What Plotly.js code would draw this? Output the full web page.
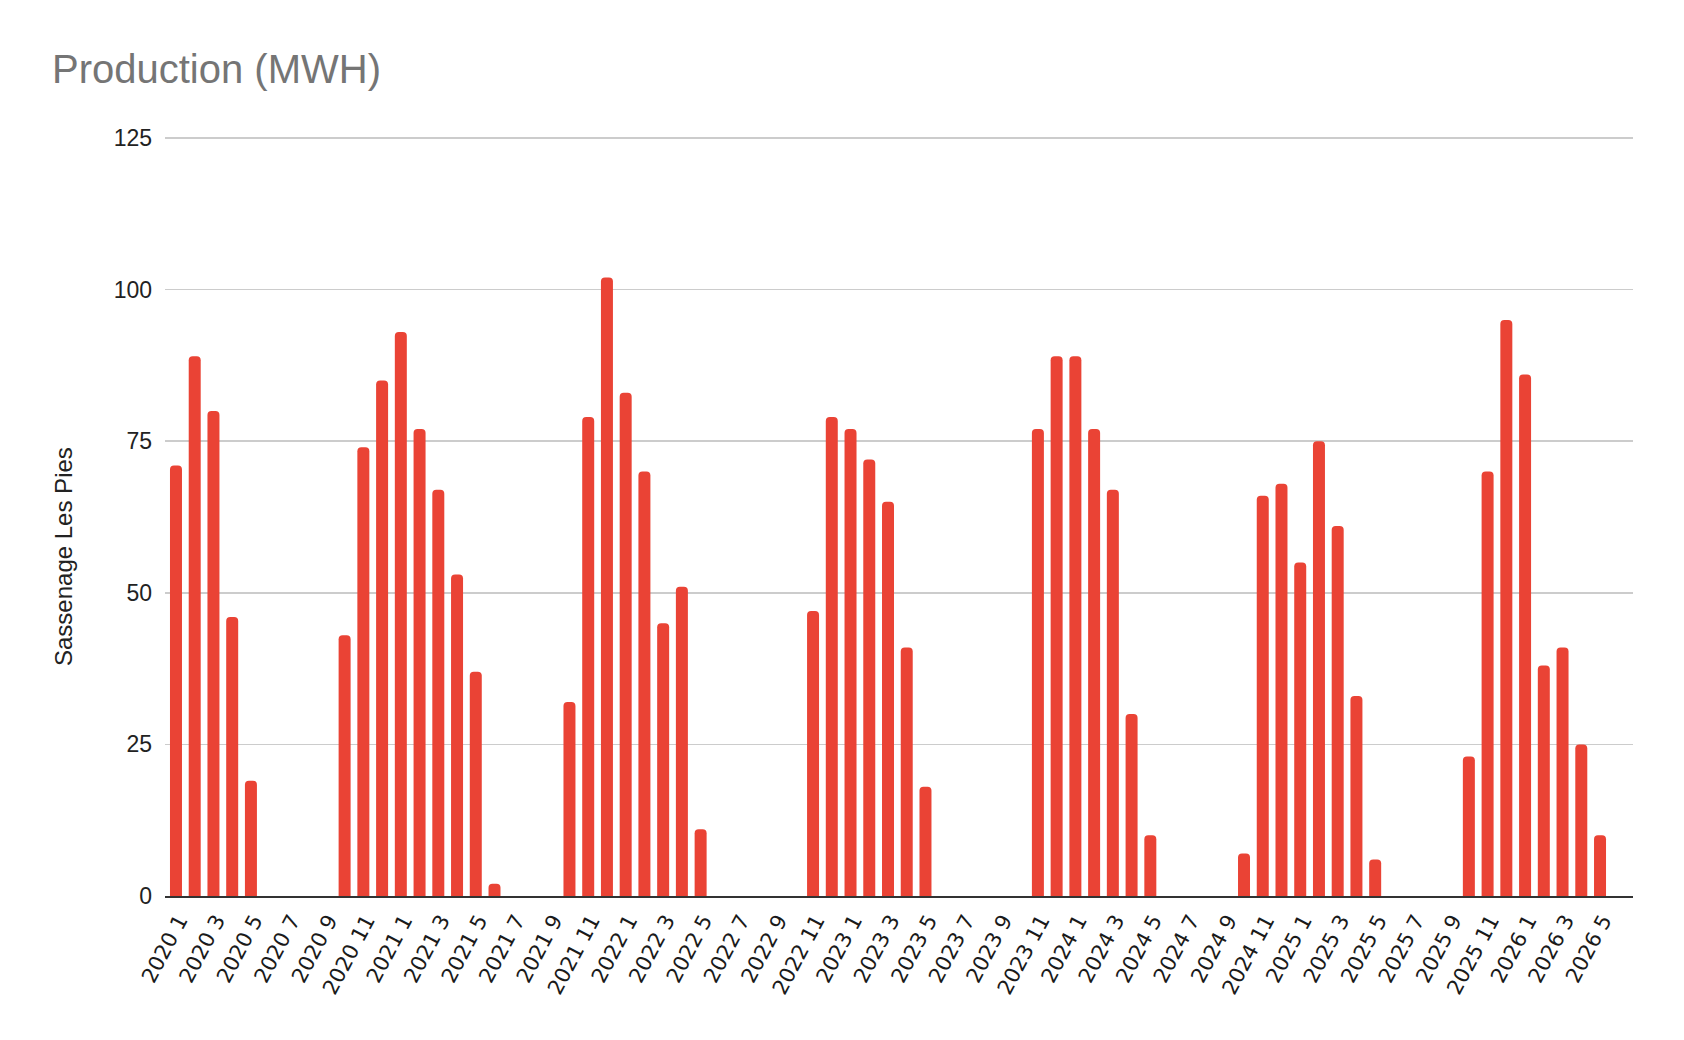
<!DOCTYPE html>
<html>
<head>
<meta charset="utf-8">
<script src="https://cdn.plot.ly/plotly-3.0.1.min.js"></script>
<style>
  html, body { margin: 0; padding: 0; background: #fff; }
  #chart { width: 1684px; height: 1040px; }
</style>
</head>
<body>
<div id="chart"></div>
<script>
// months from 2020 1 to 2026 5
var months = [
  '2020 1','2020 2','2020 3','2020 4','2020 5','2020 6','2020 7','2020 8','2020 9','2020 10','2020 11','2020 12',
  '2021 1','2021 2','2021 3','2021 4','2021 5','2021 6','2021 7','2021 8','2021 9','2021 10','2021 11','2021 12',
  '2022 1','2022 2','2022 3','2022 4','2022 5','2022 6','2022 7','2022 8','2022 9','2022 10','2022 11','2022 12',
  '2023 1','2023 2','2023 3','2023 4','2023 5','2023 6','2023 7','2023 8','2023 9','2023 10','2023 11','2023 12',
  '2024 1','2024 2','2024 3','2024 4','2024 5','2024 6','2024 7','2024 8','2024 9','2024 10','2024 11','2024 12',
  '2025 1','2025 2','2025 3','2025 4','2025 5','2025 6','2025 7','2025 8','2025 9','2025 10','2025 11','2025 12',
  '2026 1','2026 2','2026 3','2026 4','2026 5'
];

// production in MWH, one value per month
var production = [
  71, 89, 80, 46, 19, 0, 0, 0, 0, 43, 74, 85,
  93, 77, 67, 53, 37, 2, 0, 0, 0, 32, 79, 102,
  83, 70, 45, 51, 11, 0, 0, 0, 0, 0, 47, 79,
  77, 72, 65, 41, 18, 0, 0, 0, 0, 0, 77, 89,
  89, 77, 67, 30, 10, 0, 0, 0, 0, 7, 66, 68,
  55, 75, 61, 33, 6, 0, 0, 0, 0, 23, 70, 95,
  86, 38, 41, 25, 10
];

// only every other month gets a label
var tickLabels = [
  '2020 1','2020 3','2020 5','2020 7','2020 9','2020 11',
  '2021 1','2021 3','2021 5','2021 7','2021 9','2021 11',
  '2022 1','2022 3','2022 5','2022 7','2022 9','2022 11',
  '2023 1','2023 3','2023 5','2023 7','2023 9','2023 11',
  '2024 1','2024 3','2024 5','2024 7','2024 9','2024 11',
  '2025 1','2025 3','2025 5','2025 7','2025 9','2025 11',
  '2026 1','2026 3','2026 5'
];

var yTicks = [0, 25, 50, 75, 100, 125];

var data = [{
  x: months,
  y: production,
  type: 'bar',
  marker: { color: '#ea4335' },
  hoverinfo: 'x+y'
}];

var layout = {
  width: 1684,
  height: 1040,
  paper_bgcolor: '#ffffff',
  plot_bgcolor: '#ffffff',
  showlegend: false,
  bargap: 0.36,
  barcornerradius: 4,
  // top margin a little smaller so the 125 gridline is not dropped at the edge
  margin: { l: 165, r: 51, t: 135, b: 144 },
  font: { family: 'Liberation Sans, Arial, sans-serif', color: '#222222' },
  title: {
    text: 'Production (MWH)',
    font: { size: 40, color: '#757575', family: 'Liberation Sans, Arial, sans-serif' },
    xref: 'container', yref: 'container',
    x: 52 / 1684, xanchor: 'left',
    y: 1 - 69 / 1040, yanchor: 'middle'
  },
  xaxis: {
    type: 'category',
    range: [-0.586, 77.76],
    tickmode: 'array',
    tickvals: tickLabels,
    ticktext: tickLabels,
    tickangle: -62,
    ticklabelshift: 3,
    ticklabelstandoff: 2,
    tickfont: { family: 'DejaVu Sans, sans-serif', size: 21, color: '#1a1a1a' },
    ticks: '',
    showgrid: false,
    showline: true,
    linecolor: '#333333',
    linewidth: 2,
    zeroline: false,
    automargin: false
  },
  yaxis: {
    range: [0, 125.5],
    tickmode: 'array',
    tickvals: yTicks,
    ticks: '',
    ticklabelstandoff: 12,
    tickfont: { size: 23, color: '#222222' },
    showgrid: true,
    gridcolor: '#cccccc',
    gridwidth: 1.5,
    zeroline: false,
    showline: false,
    automargin: false
  },
  annotations: [{
    text: 'Sassenage Les Pies',
    textangle: -90,
    font: { size: 24, color: '#222222' },
    showarrow: false,
    xref: 'paper', yref: 'paper',
    x: (63 - 165) / 1468, xanchor: 'center',
    y: (896 - 557) / 761, yanchor: 'middle'
  }]
};

Plotly.newPlot('chart', data, layout, { displayModeBar: false, staticPlot: true });
</script>
</body>
</html>
